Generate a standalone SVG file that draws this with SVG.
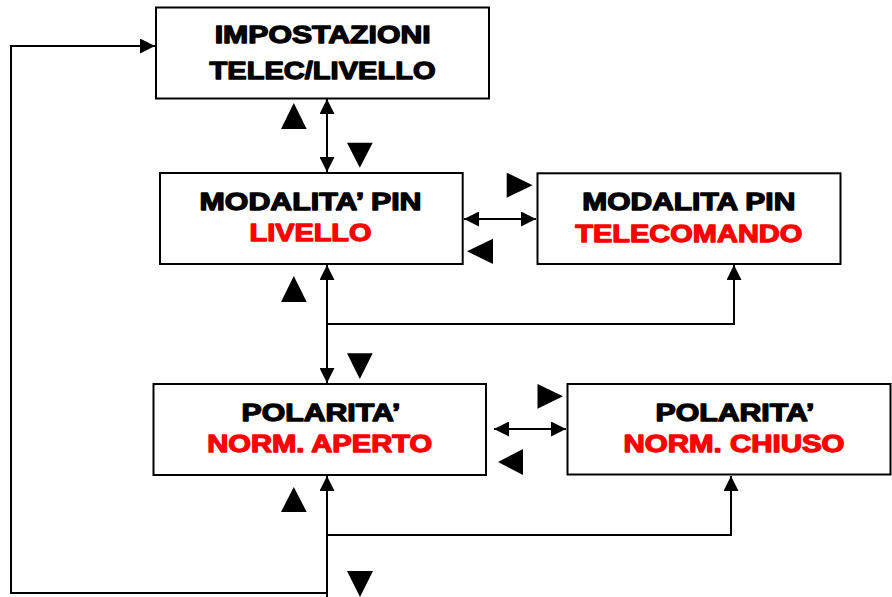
<svg xmlns="http://www.w3.org/2000/svg" width="892" height="597" viewBox="0 0 892 597">
<style>
.box{fill:#fff;stroke:#000;stroke-width:2}
.t{font-family:"Liberation Sans",Arial,sans-serif;font-weight:bold;font-size:24.5px;text-anchor:middle;stroke-width:1.3;stroke-linejoin:round}
.k{fill:#000;stroke:#000}
.r{fill:#ff0000;stroke:#ff0000}
.c{fill:none;stroke:#000;stroke-width:2}
.tri{fill:#000}
</style>
<defs>
<marker id="ah" markerUnits="userSpaceOnUse" markerWidth="15" markerHeight="15" refX="15" refY="7.5" orient="auto-start-reverse">
<path d="M0,0 L15,7.5 L0,15 z" fill="#000"/>
</marker>
</defs>
<rect width="892" height="597" fill="#fff"/>
<g id="connectors">
<path class="c" d="M327 593 H11 V46 H155" marker-end="url(#ah)"/>
<line class="c" x1="327" y1="99" x2="327" y2="172" marker-start="url(#ah)" marker-end="url(#ah)"/>
<line class="c" x1="327" y1="265" x2="327" y2="383" marker-start="url(#ah)" marker-end="url(#ah)"/>
<path class="c" d="M327 324 H734 V265" marker-end="url(#ah)"/>
<line class="c" x1="327" y1="476" x2="327" y2="597" marker-start="url(#ah)"/>
<path class="c" d="M327 535 H731 V476" marker-end="url(#ah)"/>
<line class="c" x1="464" y1="219" x2="536" y2="219" marker-start="url(#ah)" marker-end="url(#ah)"/>
<line class="c" x1="494" y1="429" x2="566" y2="429" marker-start="url(#ah)" marker-end="url(#ah)"/>
</g>
<g id="indicators">
<polygon class="tri" points="281,129 306.7,129 293.8,103"/>
<polygon class="tri" points="347,142.7 372.7,142.7 359.8,167.7"/>
<polygon class="tri" points="281,302 306.7,302 293.8,276"/>
<polygon class="tri" points="347,353.3 372.7,353.3 359.8,379"/>
<polygon class="tri" points="281,512 306.7,512 293.8,487"/>
<polygon class="tri" points="347,571 373,571 360,597"/>
<polygon class="tri" points="506.7,172.7 506.7,197.7 532.7,185.2"/>
<polygon class="tri" points="493,238.7 493,264 467,251.3"/>
<polygon class="tri" points="537.5,384 537.5,408.7 563,396.3"/>
<polygon class="tri" points="523,449 523,475 498,462"/>
</g>
<g id="impostazioni">
<rect class="box" x="156" y="7.5" width="333" height="91"/>
<text class="t k" x="322.7" y="43.3" textLength="216" lengthAdjust="spacingAndGlyphs">IMPOSTAZIONI</text>
<text class="t k" x="322.5" y="79" textLength="226" lengthAdjust="spacingAndGlyphs">TELEC/LIVELLO</text>
</g>
<g id="pin-livello">
<rect class="box" x="160" y="173" width="302.7" height="91"/>
<text class="t k" x="310.5" y="210" textLength="222" lengthAdjust="spacingAndGlyphs">MODALITA’ PIN</text>
<text class="t r" x="310.5" y="241" textLength="122" lengthAdjust="spacingAndGlyphs">LIVELLO</text>
</g>
<g id="pin-telecomando">
<rect class="box" x="537.5" y="173.3" width="303" height="90.7"/>
<text class="t k" x="688.8" y="210" textLength="213" lengthAdjust="spacingAndGlyphs">MODALITA PIN</text>
<text class="t r" x="688.8" y="241.5" textLength="227" lengthAdjust="spacingAndGlyphs">TELECOMANDO</text>
</g>
<g id="pol-aperto">
<rect class="box" x="153.5" y="384" width="332.5" height="91"/>
<text class="t k" x="321" y="420.7" textLength="159" lengthAdjust="spacingAndGlyphs">POLARITA’</text>
<text class="t r" x="319.7" y="452.3" textLength="225" lengthAdjust="spacingAndGlyphs">NORM. APERTO</text>
</g>
<g id="pol-chiuso">
<rect class="box" x="567.5" y="384" width="323" height="90.5"/>
<text class="t k" x="735" y="420.7" textLength="159" lengthAdjust="spacingAndGlyphs">POLARITA’</text>
<text class="t r" x="734" y="452.3" textLength="221" lengthAdjust="spacingAndGlyphs">NORM. CHIUSO</text>
</g>
</svg>
